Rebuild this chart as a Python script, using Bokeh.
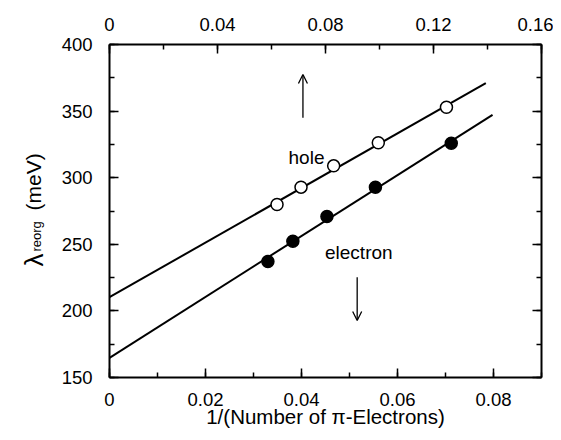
import math
from bokeh.plotting import figure
from bokeh.layouts import row
from bokeh.models import (Range1d, LinearAxis, SingleIntervalTicker, CustomJSTickFormatter,
                          Label, Arrow, OpenHead)
from bokeh.embed import file_html
from bokeh.resources import INLINE

# ---- data ----
hole_x = [0.0349, 0.0399, 0.0467, 0.0560, 0.0702]
hole_y = [279.9, 292.9, 308.9, 326.2, 352.9]
elec_x = [0.0330, 0.0382, 0.0453, 0.0554, 0.0712]
elec_y = [237.1, 252.3, 270.9, 292.9, 325.9]
hole_fit_x = [0.0, 0.0784]
hole_fit_y = [210.3, 371.0]
elec_fit_x = [0.0, 0.0798]
elec_fit_y = [164.8, 347.2]
arrow_x = [0.0403, 0.0516]
arrow_y_start = [345.0, 225.3]
arrow_y_end = [377.5, 192.8]

FONT = "Liberation Sans"
H = 432
STRIP_W = 58
FRAME_TOP = 44
FRAME_BOTTOM = 377

# ---- main plot ----
p = figure(width=553 - STRIP_W, height=H, x_range=Range1d(0, 0.09), y_range=Range1d(150, 400),
           output_backend="svg", toolbar_location=None,
           min_border_left=108 - STRIP_W, min_border_right=12, min_border_top=FRAME_TOP,
           min_border_bottom=H - FRAME_BOTTOM, x_axis_location=None, y_axis_location=None)
p.outline_line_color = None
p.xgrid.visible = False
p.ygrid.visible = False
p.background_fill_color = "white"
p.border_fill_color = "white"

p.extra_x_ranges = {"top": Range1d(0, 0.16)}

fmt = CustomJSTickFormatter(code="return Math.abs(tick) < 1e-12 ? '0' : tick.toFixed(2);")


def style(ax, standoff):
    ax.axis_line_width = 2
    ax.axis_line_color = "black"
    ax.major_tick_in = 9
    ax.major_tick_out = 0
    ax.minor_tick_in = 5
    ax.minor_tick_out = 0
    ax.major_tick_line_width = 1.5
    ax.minor_tick_line_width = 1.5
    ax.major_tick_line_color = "black"
    ax.minor_tick_line_color = "black"
    ax.major_label_text_font = FONT
    ax.major_label_text_font_size = "18.5px"
    ax.major_label_text_color = "black"
    ax.major_label_standoff = standoff


bottom = LinearAxis(ticker=SingleIntervalTicker(interval=0.02, num_minor_ticks=2), formatter=fmt)
style(bottom, 15)
bottom.axis_label = "1/(Number of \u03c0-Electrons)"
bottom.axis_label_text_font = FONT
bottom.axis_label_text_font_size = "20.5px"
bottom.axis_label_text_font_style = "normal"
bottom.axis_label_text_color = "black"
bottom.axis_label_standoff = -4
p.add_layout(bottom, "below")

top = LinearAxis(x_range_name="top", ticker=SingleIntervalTicker(interval=0.04, num_minor_ticks=2),
                 formatter=fmt)
style(top, 14)
p.add_layout(top, "above")

left = LinearAxis(ticker=SingleIntervalTicker(interval=50, num_minor_ticks=2))
style(left, 17)
p.add_layout(left, "left")

right = LinearAxis(ticker=SingleIntervalTicker(interval=50, num_minor_ticks=2))
style(right, 0)
right.major_label_text_font_size = "0px"
right.major_label_text_color = None
p.add_layout(right, "right")

# fit lines
p.line(hole_fit_x, hole_fit_y, line_width=2, line_color="black")
p.line(elec_fit_x, elec_fit_y, line_width=2, line_color="black")

# points
p.scatter(hole_x, hole_y, marker="circle", size=12, fill_color="white",
          line_color="black", line_width=1.5)
p.scatter(elec_x, elec_y, marker="circle", size=12, fill_color="black",
          line_color="black", line_width=1.5)

# arrows
for xa, ys, ye in zip(arrow_x, arrow_y_start, arrow_y_end):
    p.add_layout(Arrow(end=OpenHead(size=9, line_width=1.3, line_color="black"),
                       x_start=xa, y_start=ys, x_end=xa, y_end=ye,
                       line_width=1.3, line_color="black"))

# text labels
p.add_layout(Label(x=0.0373, y=315.2, text="hole", text_font=FONT, text_font_size="19px",
                   text_baseline="alphabetic", text_align="left", text_color="black"))
p.add_layout(Label(x=0.0449, y=243.9, text="electron", text_font=FONT, text_font_size="19px",
                   text_baseline="alphabetic", text_align="left", text_color="black"))

# ---- strip on the left holding the rotated y-axis title with its subscript ----
# (its frame is aligned with the main frame by the row layout, so its y range is
#  expressed in page pixels measured from the bottom of the page)
s = figure(width=STRIP_W, height=H, x_range=Range1d(0, STRIP_W),
           y_range=Range1d(H - FRAME_BOTTOM, H - FRAME_TOP),
           output_backend="svg", toolbar_location=None, min_border=0,
           x_axis_location=None, y_axis_location=None)
s.outline_line_color = None
s.xgrid.visible = False
s.ygrid.visible = False
s.background_fill_color = "white"
s.border_fill_color = "white"

ang = math.pi / 2
s.add_layout(Label(x=33, y=H - 266, text="\u03bb", text_font=FONT, text_font_size="26px",
                   angle=ang, text_baseline="alphabetic", text_align="left", text_color="black"))
s.add_layout(Label(x=36, y=H - 251, text="reorg", text_font=FONT, text_font_size="13px",
                   angle=ang, text_baseline="alphabetic", text_align="left", text_color="black"))
s.add_layout(Label(x=32.5, y=H - 210, text="(meV)", text_font=FONT, text_font_size="21px",
                   angle=ang, text_baseline="alphabetic", text_align="left", text_color="black"))

layout = row(s, p, spacing=0)
open("out.html", "w").write(file_html(layout, INLINE))
